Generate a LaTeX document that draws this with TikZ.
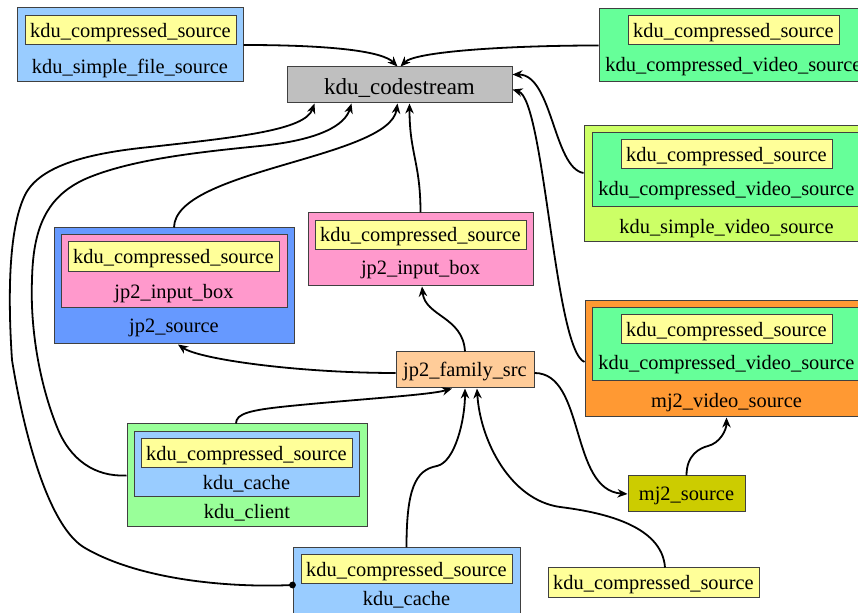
\documentclass[tikz,border=0pt]{standalone}
\usepackage{fontspec}
\setmainfont{Liberation Serif}
\usetikzlibrary{arrows.meta,calc}
\definecolor{cblue}{HTML}{99CCFF}
\definecolor{cyel}{HTML}{FFFF99}
\definecolor{cgray}{HTML}{BFBFBF}
\definecolor{cmint}{HTML}{66FF99}
\definecolor{clime}{HTML}{CCFF66}
\definecolor{croyal}{HTML}{6699FF}
\definecolor{cpink}{HTML}{FF99CC}
\definecolor{cpeach}{HTML}{FFCC99}
\definecolor{clgreen}{HTML}{99FF99}
\definecolor{corange}{HTML}{FF9933}
\definecolor{colive}{HTML}{CCCC00}
\begin{document}
\begin{tikzpicture}[x=0.5pt,y=-0.5pt,
  txt/.style={font=\fontsize{10.2}{12}\selectfont, text height=8.4pt, text depth=1.5pt},
  rec/.style={draw=black!75, line width=0.5pt, inner sep=0pt, txt},
  wh/.style 2 args={minimum width=#1*0.5pt, minimum height=#2*0.5pt},
  lab/.style={inner sep=0pt, txt},
  link/.style={line width=0.9pt, -{Stealth[length=5pt,width=4.2pt,inset=1.6pt]}}]
\useasboundingbox (0,0) rectangle (858,613);
\fill[white] (0,0) rectangle (858,613);
\clip (0,0) rectangle (858,613);

% kdu_simple_file_source
\node[rec, fill=cblue, wh={226}{74}] (kfs) at (130,45) {};
\node[rec, fill=cyel, wh={211}{29}] (kfsy) at (130.5,30.5) {kdu\_compressed\_source};
\node[lab] (kfsl) at (130,67) {kdu\_simple\_file\_source};

% kdu_codestream
\node[rec, fill=cgray, wh={225}{36}, font=\fontsize{11.5}{14}\selectfont, text height=11pt, text depth=1.1pt] (cs) at (399.5,85) {kdu\_codestream};

% kdu_compressed_video_source (top right)
\node[rec, fill=cmint, wh={269}{73}] (cvs) at (733.5,45.5) {};
\node[rec, fill=cyel, wh={211}{29}] (cvsy) at (733.5,30.5) {kdu\_compressed\_source};
\node[lab] (cvsl) at (733.5,65) {kdu\_compressed\_video\_source};

% kdu_simple_video_source
\node[rec, fill=clime, wh={285}{116}] (svs) at (726.5,184) {};
\node[rec, fill=cmint, wh={269}{74}] (svsg) at (726.5,170) {};
\node[rec, fill=cyel, wh={211}{29}] (svsy) at (726.5,154.5) {kdu\_compressed\_source};
\node[lab] (svsl1) at (726.5,189) {kdu\_compressed\_video\_source};
\node[lab] (svsl2) at (726.5,227) {kdu\_simple\_video\_source};

% jp2_source
\node[rec, fill=croyal, wh={240}{116}] (j2s) at (174,286) {};
\node[rec, fill=cpink, wh={226}{73}] (j2sp) at (174,271.5) {};
\node[rec, fill=cyel, wh={211}{30}] (j2sy) at (173.5,257) {kdu\_compressed\_source};
\node[lab] (j2sl1) at (174,292) {jp2\_input\_box};
\node[lab] (j2sl2) at (174,326) {jp2\_source};

% jp2_input_box (standalone)
\node[rec, fill=cpink, wh={225}{73}] (jib) at (420.5,249.5) {};
\node[rec, fill=cyel, wh={211}{29}] (jiby) at (420.5,235) {kdu\_compressed\_source};
\node[lab] (jibl) at (420.5,268) {jp2\_input\_box};

% jp2_family_src
\node[rec, fill=cpeach, wh={138}{36}] (jfs) at (465,370) {jp2\_family\_src};

% kdu_client
\node[rec, fill=clgreen, wh={240}{103}] (kc) at (247,475.5) {};
\node[rec, fill=cblue, wh={225}{65}] (kcb) at (246.5,464.5) {};
\node[rec, fill=cyel, wh={211}{29}] (kcy) at (246.5,453.5) {kdu\_compressed\_source};
\node[lab] (kcl1) at (246.5,483) {kdu\_cache};
\node[lab] (kcl2) at (247,512) {kdu\_client};

% kdu_cache (bottom)
\node[rec, fill=cblue, wh={227}{66}] (kc2) at (406.5,581) {};
\node[rec, fill=cyel, wh={211}{29}] (kc2y) at (406.5,569.5) {kdu\_compressed\_source};
\node[lab] (kc2l) at (406.5,599) {kdu\_cache};

% mj2_video_source
\node[rec, fill=corange, wh={283}{116}] (mvs) at (726.5,359) {};
\node[rec, fill=cmint, wh={269}{73}] (mvsg) at (726.5,344.5) {};
\node[rec, fill=cyel, wh={211}{29}] (mvsy) at (726.5,329.5) {kdu\_compressed\_source};
\node[lab] (mvsl1) at (726.5,363) {kdu\_compressed\_video\_source};
\node[lab] (mvsl2) at (726.5,401) {mj2\_video\_source};

% mj2_source
\node[rec, fill=colive, wh={117}{36}] (mjs) at (686.5,494) {mj2\_source};

% bottom-right kdu_compressed_source
\node[rec, fill=cyel, wh={211}{30}] (bcs) at (653.5,583) {kdu\_compressed\_source};

% connectors
\draw[link] (kfs.east) .. controls +(90,0) and +(-15,-15) .. ($(cs.north)+(-2,0)$);
\draw[link] (cvs.west) .. controls +(-90,0) and +(15,-15) .. ($(cs.north)+(1,0)$);
\draw[link] ($(svs.west)+(0,-11)$) .. controls +(-30,-5) and +(40,0) .. ($(cs.north east)+(0,8)$);
\draw[link] ($(mvs.west)+(0,3)$) .. controls +(-30,-12) and +(32,10) .. ($(cs.north east)+(0,23)$);
\draw[link] (j2s.north) .. controls +(1,-58) and +(-8,55) .. ($(cs.south west)+(111,0)$);
\draw[link] (jib.north) .. controls +(0,-50) and +(0,50) .. ($(cs.south west)+(123,0)$);

\coordinate (o1) at ($(kc2.west)+(0,4)$);
\fill (o1) circle (1.7pt);
\draw[link] (o1) .. controls (230,588) and (140,580) .. (85,548)
  .. controls (50,528) and (25,440) .. (12,360)
  .. controls (8,300) and (8,230) .. (25,195)
  .. controls (40,165) and (90,153) .. (150,147)
  .. controls (240,137) and (305,130) .. ($(cs.south west)+(28,0)$);
\draw[link] (kc.west) .. controls (95,477) and (70,460) .. (57,427)
  .. controls (40,385) and (30,330) .. (32,280)
  .. controls (33,230) and (45,195) .. (90,177)
  .. controls (135,159) and (200,152) .. (260,146)
  .. controls (320,140) and (345,125) .. ($(cs.south west)+(65,0)$);

\draw[link] (jfs.north) .. controls +(-2,-35) and +(3,30) .. ($(jib.south)+(1.5,0)$);
\draw[link] ($(jfs.west)+(0,3)$) .. controls +(-96,0) and +(22,15) .. ($(j2s.south)+(4,0)$);
\draw[link] ($(jfs.east)+(0,3)$) .. controls +(51,0) and +(-58,-4) .. (mjs.west);
\draw[link] ($(kc.north)+(-11,0)$) .. controls +(0,-10) and (250,410) .. (290,406)
  .. controls (360,399) and (430,395) .. ($(jfs.south)+(-13,0)$);
\draw[link] (kc2.north) .. controls +(0,-58) and (415,470) .. (437,466)
  .. controls (455,462) and (465,420) .. (jfs.south);
\draw[link] ($(bcs.north)+(11.5,0)$) .. controls +(-3,-43) and (600,512) .. (560,507)
  .. controls (510,500) and (480,440) .. ($(jfs.south)+(12,0)$);
\draw[link] (mjs.north) .. controls +(0,-21) and (700,448) .. (708,446)
  .. controls (720,443) and (726.5,430) .. (mvs.south);
\end{tikzpicture}
\end{document}
